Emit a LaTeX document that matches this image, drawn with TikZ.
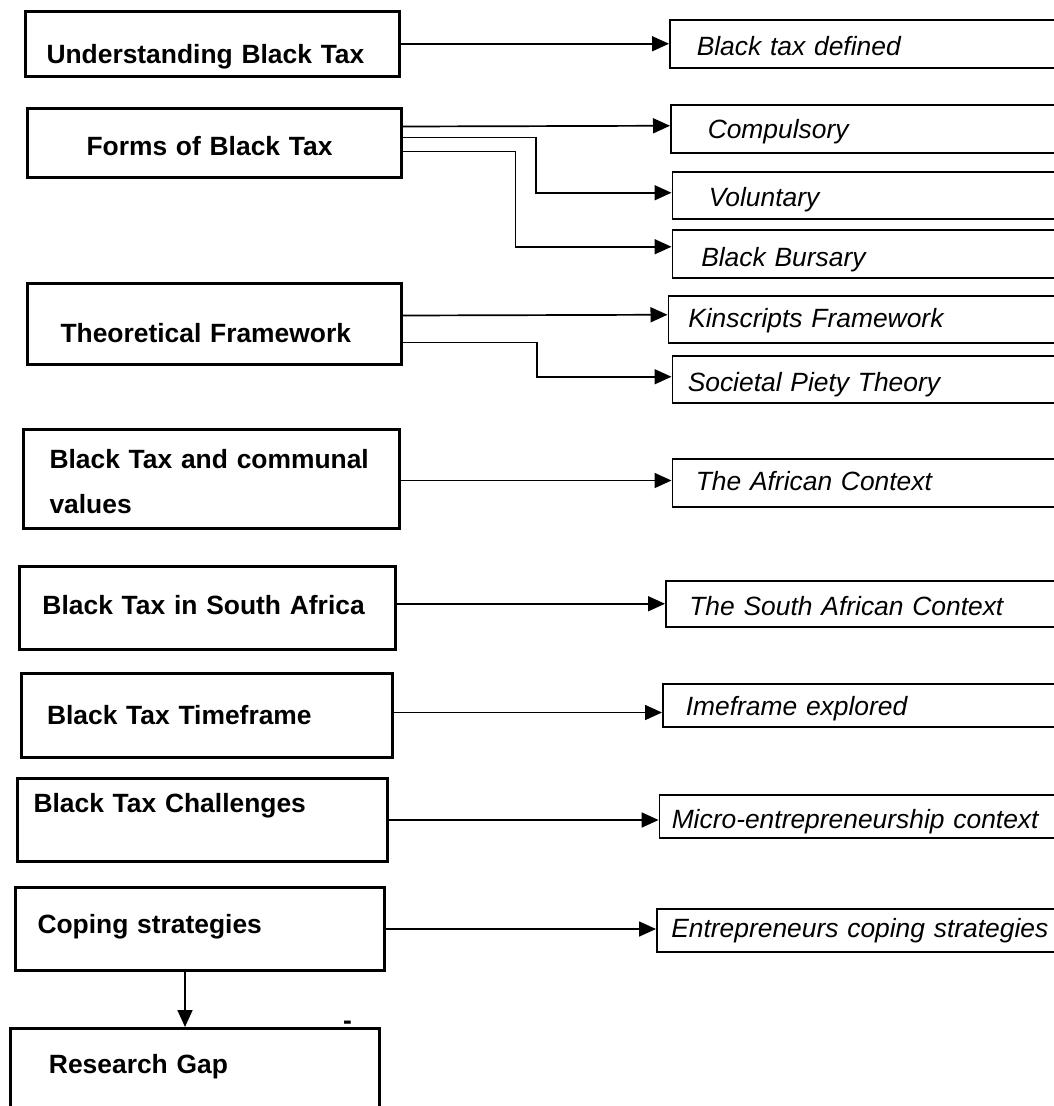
\documentclass[tikz,border=0pt]{standalone}
\usepackage{fontspec}
\setmainfont{Liberation Sans}
\usetikzlibrary{arrows.meta}
\begin{document}
\begin{tikzpicture}[x=1pt,y=-1pt,
  topic/.style={draw, line width=3pt, inner sep=0pt, anchor=north west, align=left,
    font=\fontsize{26.4}{45}\selectfont\bfseries},
  detail/.style={draw, line width=1.5pt, inner sep=0pt, anchor=north west, align=left,
    font=\fontsize{26.4}{32}\selectfont\itshape},
  link/.style={line width=1.7pt, -{Triangle[length=17pt,width=15pt]}}]
\fill[white] (0,0) rectangle (1054,1106);
\clip (0,0) rectangle (1054,1106);

% topics (left column)
\node[topic, text width=374pt, text height=52pt, text depth=13pt] (u1) at (24,10)
  {\hspace*{21pt}Understanding Black Tax};
\node[topic, text width=374pt, text height=47pt, text depth=22pt] (u2) at (26,107)
  {\hspace*{59pt}Forms of Black Tax};
\node[topic, text width=374pt, text height=59pt, text depth=22pt] (u3) at (26,282)
  {\hspace*{33pt}Theoretical Framework};
\node[topic, text width=376pt, text height=39pt, text depth=60pt] (u4) at (22,428)
  {\hspace*{26pt}Black Tax and communal\\\hspace*{26pt}values};
\node[topic, text width=376pt, text height=48pt, text depth=35pt] (u5) at (18,565)
  {\hspace*{23pt}Black Tax in South Africa};
\node[topic, text width=371pt, text height=51pt, text depth=33pt] (u6) at (20,672)
  {\hspace*{25.5pt}Black Tax Timeframe};
\node[topic, text width=370pt, text height=34pt, text depth=49pt] (u7) at (16,777)
  {\hspace*{16pt}Black Tax Challenges};
\node[topic, text width=369pt, text height=46pt, text depth=37pt] (u8) at (14,886)
  {\hspace*{22pt}Coping strategies};
\node[topic, text width=369pt, text height=45pt, text depth=43pt] (u9) at (9,1027)
  {\hspace*{38.5pt}Research Gap};
\node[anchor=base, inner sep=0pt, font=\fontsize{26.4}{30}\selectfont\bfseries] (mark) at (347.5,1029.5) {-};

% details (right column)
\node[detail, text width=401pt, text height=36pt, text depth=12pt] (r1) at (669,19)
  {\hspace*{27pt}Black tax defined};
\node[detail, text width=400pt, text height=34pt, text depth=14pt] (r2) at (670,104)
  {\hspace*{37pt}Compulsory};
\node[detail, text width=398.5pt, text height=35pt, text depth=12pt] (r3) at (671.5,171)
  {\hspace*{36.5pt}Voluntary};
\node[detail, text width=398.5pt, text height=37pt, text depth=11pt] (r4) at (671.5,229)
  {\hspace*{29pt}Black Bursary};
\node[detail, text width=402.5pt, text height=32pt, text depth=15pt] (r5) at (667.5,295)
  {\hspace*{20pt}Kinscripts Framework};
\node[detail, text width=398.5pt, text height=36pt, text depth=11pt] (r6) at (671.5,355)
  {\hspace*{15.5pt}Societal Piety Theory};
\node[detail, text width=398.5pt, text height=32pt, text depth=16pt] (r7) at (671.5,458)
  {\hspace*{23.5pt}The African Context};
\node[detail, text width=405pt, text height=35pt, text depth=11pt] (r8) at (665,580)
  {\hspace*{23.6pt}The South African Context};
\node[detail, text width=408pt, text height=32pt, text depth=11pt] (r9) at (662,683)
  {\hspace*{23pt}Imeframe explored};
\node[detail, text width=411.4pt, text height=34pt, text depth=9pt] (r10) at (658.6,794)
  {\hspace*{12.4pt}Micro-entrepreneurship context};
\node[detail, text width=414pt, text height=29pt, text depth=14pt] (r11) at (656,908)
  {\hspace*{14.5pt}Entrepreneurs coping strategies};

% connectors
\draw[link] (u1.east |- r1.west) -- (r1.west);
\draw[link] ([yshift=16.5pt]u2.east) -- ([yshift=3pt]r2.west);
\draw[link] ([yshift=5.5pt]u2.east) -| ([xshift=-135.5pt,yshift=2.5pt]r3.west) -- ([yshift=2.5pt]r3.west);
\draw[link] ([yshift=-8.5pt]u2.east) -| ([xshift=-156pt,yshift=7pt]r4.west) -- ([yshift=7pt]r4.west);
\draw[link] ([yshift=8.5pt]u3.east) -- ([yshift=4.5pt]r5.west);
\draw[link] ([yshift=-18.5pt]u3.east) -| ([xshift=-134.5pt,yshift=2.5pt]r6.west) -- ([yshift=2.5pt]r6.west);
\draw[link] ([yshift=-1.5pt]u4.east) -- ([yshift=-1.5pt]u4.east -| r7.west);
\draw[link] (u5.east |- r8.west) -- (r8.west);
\draw[link] ([yshift=3pt]u6.east) -- ([yshift=3pt]u6.east -| r9.west);
\draw[link] (u7.east) -- (u7.east -| r10.west);
\draw[link] (u8.east) -- (u8.east -| r11.west);
\draw[link] ([xshift=-15pt]u8.south) -- ([xshift=-15pt]u8.south |- u9.north);
\end{tikzpicture}
\end{document}
